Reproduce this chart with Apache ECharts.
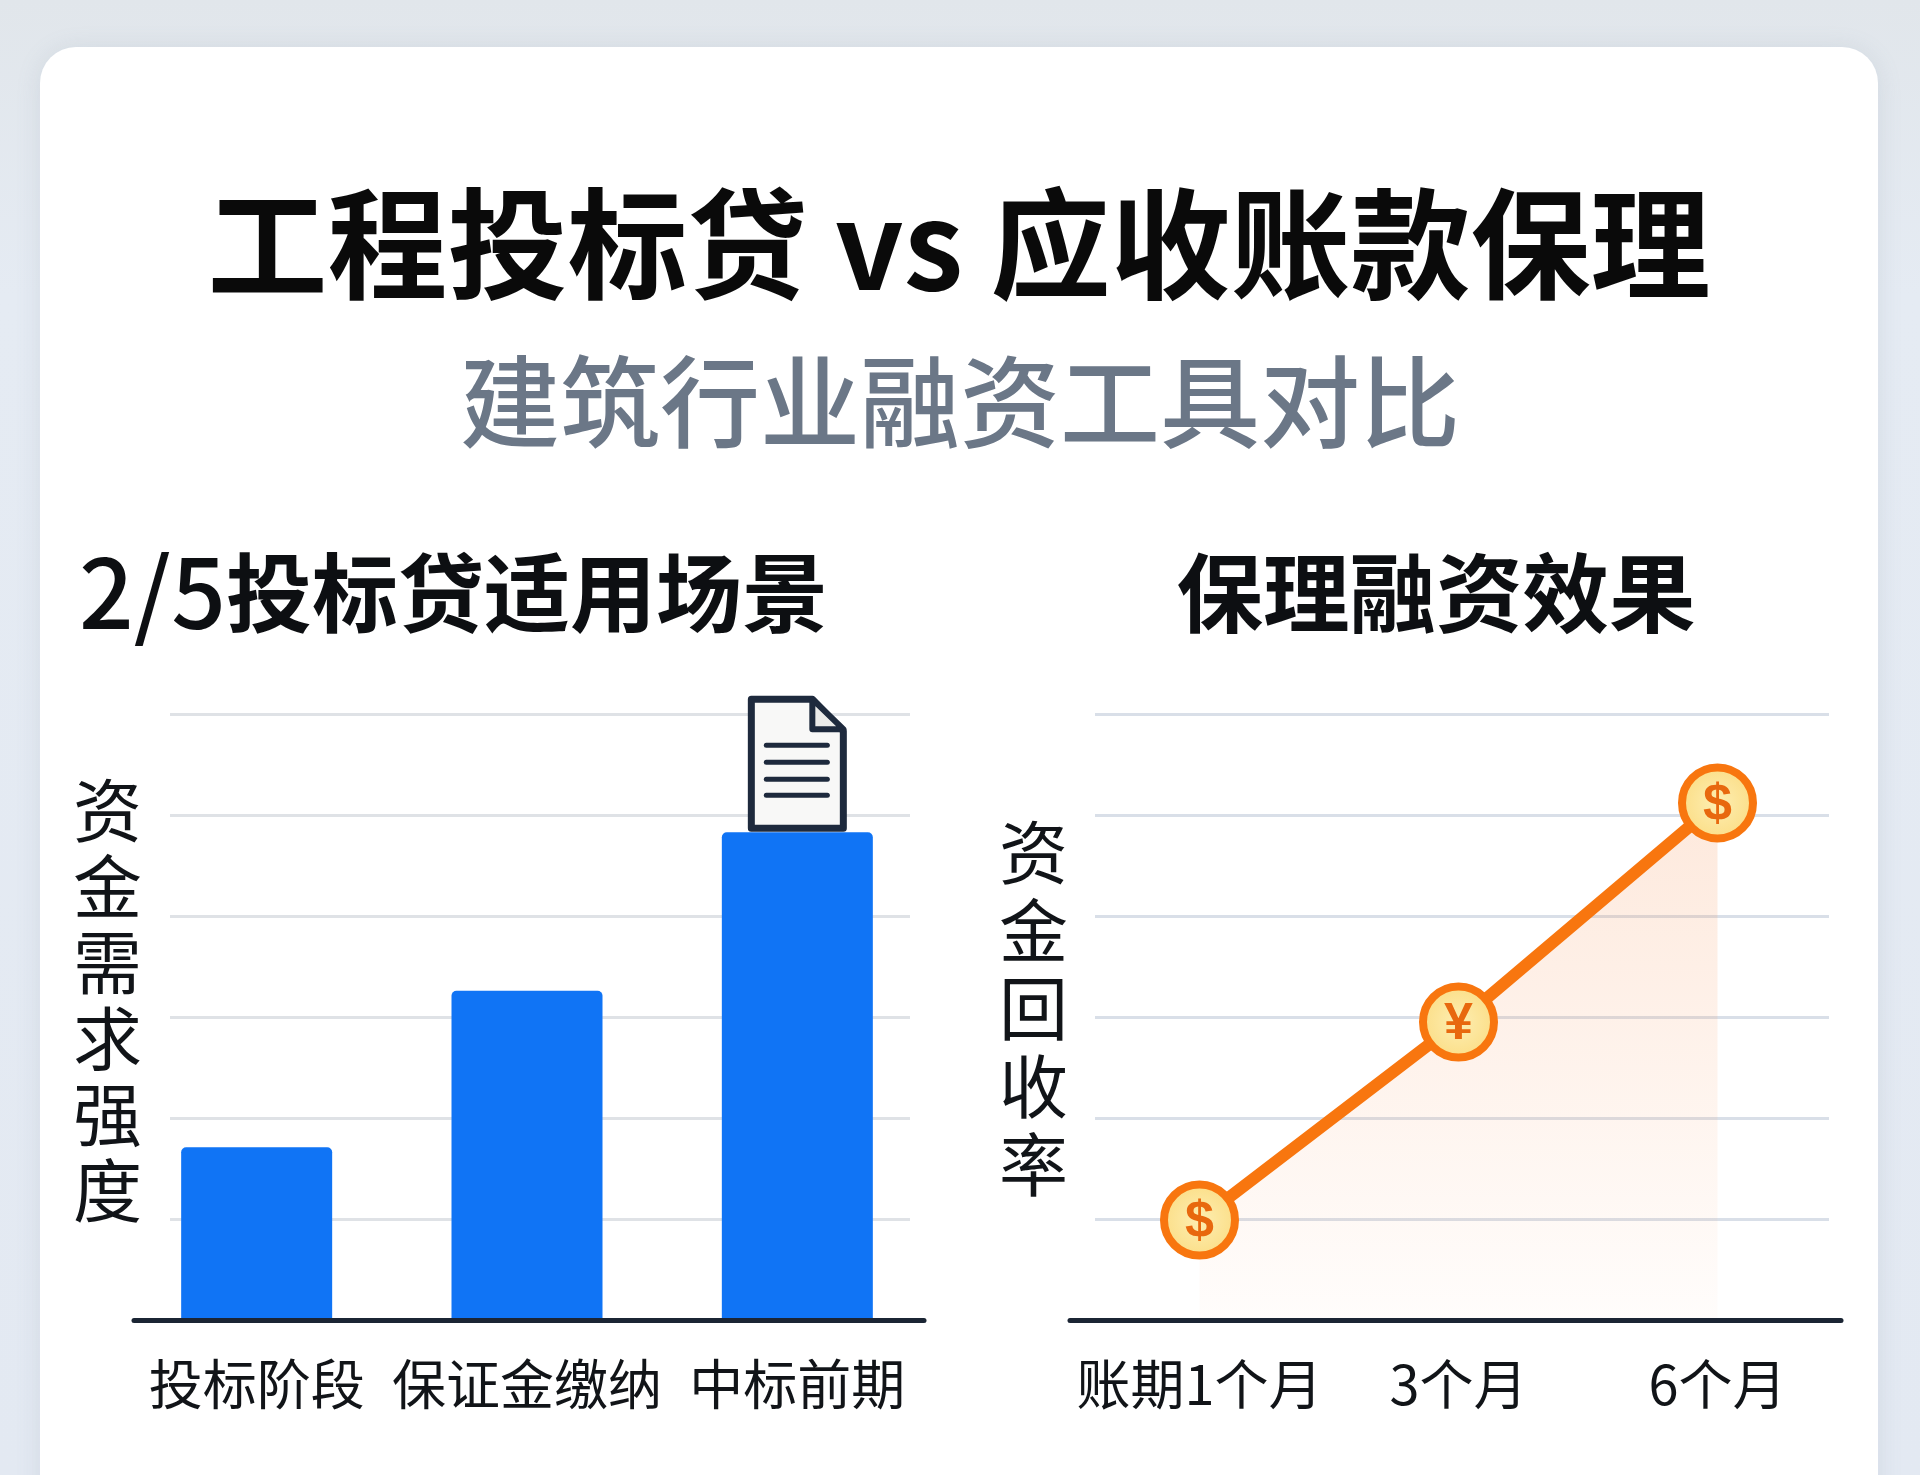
<!DOCTYPE html>
<html lang="zh-CN">
<head>
<meta charset="utf-8">
<title>工程投标贷 vs 应收账款保理</title>
<style>html,body{margin:0;padding:0;background:#e4eaf1}#chart{width:1920px;height:1475px}</style>
<script src="https://cdn.jsdelivr.net/npm/echarts@6/dist/echarts.min.js"></script>
</head>
<body>
<div id="chart"></div>
<script>
const mainTitle = '工程投标贷 vs 应收账款保理';
const subTitle = '建筑行业融资工具对比';
const leftTitleNumber = '2/5';
const leftTitleText = '投标贷适用场景';
const rightTitle = '保理融资效果';
const leftAxisName = '资金需求强度';
const rightAxisName = '资金回收率';
const barCategories = ['投标阶段', '保证金缴纳', '中标前期'];
const barValues = [1.71, 3.26, 4.83];
const lineCategories = ['账期1个月', '3个月', '6个月'];
const lineValues = [0.99, 2.95, 5.12];
const coinGlyphs = ['$', '¥', '$'];
const docMarker = [[2, 4.83]];

const FONT = '"Noto Sans CJK SC","Noto Sans",sans-serif';
const INK = '#111418', AXIS = '#1b2534';
const vertical = s => s.split('').join('\n');

const BOTTOM = 1320;
const gridBox = (left, width, top) => ({left, width, top: top || 714, height: BOTTOM - (top || 714)});
const yBase = (gridIndex, extra) => Object.assign({
  type: 'value', gridIndex, min: 0, max: 6, interval: 1,
  axisLine: {show: false}, axisTick: {show: false}, axisLabel: {show: false}, splitLine: {show: false}
}, extra);
const xBlank = (gridIndex, cats, extra) => Object.assign({
  type: 'category', gridIndex, data: cats,
  axisLine: {show: false}, axisTick: {show: false}, axisLabel: {show: false}, splitLine: {show: false}
}, extra);
const labelStyle = {show: true, color: INK, fontSize: 54, fontFamily: FONT, margin: 37, interval: 0};
const gridLine = c => ({show: true, lineStyle: {color: c, width: 3}});
const baseLine = {show: true, onZero: false, lineStyle: {color: AXIS, width: 5}};
const nameOf = (name, gap, lineHeight) => ({
  name: vertical(name), nameLocation: 'middle', nameGap: gap, nameRotate: 0,
  nameTextStyle: {color: INK, fontSize: 69, lineHeight, fontFamily: FONT}
});

function renderDoc(params, api) {
  const p = api.coord([api.value(0), api.value(1)]);
  const stroke = '#1e2a3d';
  const rule = y => ({type: 'line', shape: {x1: -31, y1: y, x2: 30, y2: y},
    style: {stroke, lineWidth: 5, lineCap: 'round'}});
  return {
    type: 'group', x: p[0], y: p[1],
    children: [
      {type: 'polygon', shape: {points: [[-46, -133], [15, -133], [46, -101], [46, -4], [-46, -4]]},
        style: {fill: '#f8f8f7', stroke, lineWidth: 7, lineJoin: 'round'}},
      {type: 'polygon', shape: {points: [[15, -133], [46, -103], [15, -103]]},
        style: {fill: '#ebebe9', stroke, lineWidth: 6, lineJoin: 'round'}},
      rule(-87), rule(-70), rule(-53), rule(-37)
    ]
  };
}

const option = {
  animation: false,
  backgroundColor: {type: 'linear', x: 0, y: 0, x2: 0, y2: 1, colorStops: [
    {offset: 0, color: '#e1e6eb'}, {offset: 0.2, color: '#e5ebf3'}, {offset: 1, color: '#e3e9f2'}
  ]},
  graphic: [{
    type: 'rect', z: -10, silent: true,
    shape: {x: 40, y: 47, width: 1838, height: 1600, r: 36},
    style: {fill: '#ffffff', shadowBlur: 24, shadowColor: 'rgba(120,135,155,0.16)', shadowOffsetY: 2}
  }],
  title: [
    {text: mainTitle, left: 954, top: 239, textAlign: 'center', textVerticalAlign: 'middle',
      textStyle: {color: '#0a0a0a', fontSize: 120, fontWeight: 700, fontFamily: FONT}},
    {text: subTitle, left: 955, top: 397, textAlign: 'center', textVerticalAlign: 'middle',
      textStyle: {color: '#6b7787', fontSize: 100, fontWeight: 500, fontFamily: FONT}},
    {text: '{n|' + leftTitleNumber + '}{t|' + leftTitleText + '}', left: 74, top: 588, textAlign: 'left', textVerticalAlign: 'middle',
      textStyle: {color: '#0d0f12', fontSize: 86, fontWeight: 700, fontFamily: FONT,
        rich: {
          n: {color: '#0d0f12', fontSize: 96, fontWeight: 500, fontFamily: FONT},
          t: {color: '#0d0f12', fontSize: 86, fontWeight: 700, fontFamily: FONT}
        }}},
    {text: rightTitle, left: 1431, top: 588, textAlign: 'center', textVerticalAlign: 'middle',
      textStyle: {color: '#0d0f12', fontSize: 86.5, fontWeight: 700, fontFamily: FONT}}
  ],
  grid: [
    gridBox(121.5, 811), gridBox(170, 740), gridBox(134, 790, 682),
    gridBox(1070, 777), gridBox(1095, 734), gridBox(1070, 771, 698)
  ],
  xAxis: [
    xBlank(0, barCategories, {axisLabel: labelStyle}),
    xBlank(1, barCategories),
    xBlank(2, barCategories, {axisLine: baseLine, z: 5}),
    xBlank(3, lineCategories, {axisLabel: labelStyle}),
    xBlank(4, lineCategories),
    xBlank(5, lineCategories, {axisLine: baseLine, z: 5})
  ],
  yAxis: [
    yBase(0),
    yBase(1, {splitLine: gridLine('#dfe2e6')}),
    yBase(2, nameOf(leftAxisName, -8, 76)),
    yBase(3),
    yBase(4, {splitLine: gridLine('#d9dfe8')}),
    yBase(5, nameOf(rightAxisName, 2, 78))
  ],
  series: [
    {
      type: 'bar', xAxisIndex: 0, yAxisIndex: 0, data: barValues, barWidth: 151, z: 3,
      itemStyle: {color: '#1074f5', borderRadius: [5, 5, 0, 0]}
    },
    {
      type: 'custom', xAxisIndex: 0, yAxisIndex: 0, data: docMarker, z: 4, clip: false,
      encode: {x: 0, y: 1}, renderItem: renderDoc
    },
    {
      type: 'line', xAxisIndex: 3, yAxisIndex: 3, z: 3,
      data: lineValues.map((value, i) => ({
        value,
        label: {formatter: coinGlyphs[i]}
      })),
      symbol: 'circle', symbolSize: 71, showSymbol: true, showAllSymbol: true,
      lineStyle: {color: '#f8760f', width: 12},
      areaStyle: {color: {type: 'linear', x: 0, y: 0, x2: 0, y2: 1, colorStops: [
        {offset: 0, color: 'rgba(248,150,90,0.30)'},
        {offset: 1, color: 'rgba(248,150,90,0.03)'}
      ]}},
      itemStyle: {
        color: {type: 'radial', x: 0.5, y: 0.5, r: 0.5, colorStops: [
          {offset: 0, color: '#fdeeb2'}, {offset: 1, color: '#fbdd85'}
        ]},
        borderColor: '#f8760f', borderWidth: 8
      },
      label: {show: true, position: 'inside', offset: [0, 3], color: '#e8680e', fontSize: 52, fontWeight: 700, fontFamily: '"Liberation Sans",sans-serif'}
    }
  ]
};

const chart = echarts.init(document.getElementById('chart'), null, {width: 1920, height: 1475, renderer: 'canvas'});
chart.setOption(option);
</script>
</body>
</html>
